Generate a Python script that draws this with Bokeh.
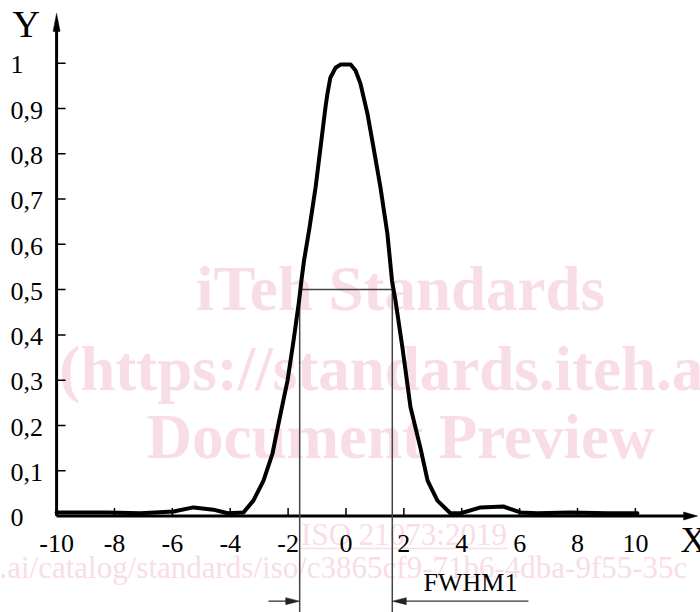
from bokeh.plotting import figure
from bokeh.models import Range1d
from bokeh.core.properties import value
from bokeh.embed import file_html
from bokeh.resources import INLINE

# ---------------- data ----------------
curve_x = [-10.0, -9.97, -8.24, -7.10, -5.96, -5.27, -4.58, -4.09, -3.54, -3.20, -2.85,
           -2.54, -2.26, -2.02, -1.81, -1.62, -1.54, -1.45, -1.26, -1.05, -0.88,
           -0.71, -0.64, -0.54, -0.36, -0.19, 0.16, 0.33, 0.50, 0.74, 0.95, 1.19, 1.43,
           1.59, 1.71, 1.95, 2.23, 2.57, 2.82, 3.16, 3.61, 3.96, 4.65,
           5.44, 6.03, 6.61, 7.76, 9.03, 10.07]
curve_y = [0.008, 0.008, 0.008, 0.006, 0.010, 0.019, 0.014, 0.006, 0.008, 0.034, 0.078,
           0.138, 0.226, 0.299, 0.388, 0.476, 0.520, 0.564, 0.637, 0.726, 0.814,
           0.902, 0.933, 0.968, 0.990, 0.997, 0.997, 0.984, 0.955, 0.889, 0.814, 0.726, 0.624,
           0.520, 0.476, 0.372, 0.240, 0.151, 0.078, 0.034, 0.006, 0.006, 0.019,
           0.021, 0.008, 0.006, 0.008, 0.006, 0.006]

x_ticks = [-10, -8, -6, -4, -2, 0, 2, 4, 6, 8, 10]
x_tick_labels = ["-10", "-8", "-6", "-4", "-2", "0", "2", "4", "6", "8", "10"]
y_ticks = [0.0, 0.1, 0.2, 0.3, 0.4, 0.5, 0.6, 0.7, 0.8, 0.9, 1.0]
y_tick_labels = ["0", "0,1", "0,2", "0,3", "0,4", "0,5", "0,6", "0,7", "0,8", "0,9", "1"]

fwhm_left = -1.6
fwhm_right = 1.6
half_max = 0.5
fwhm_label = "FWHM1"

watermark_lines = ["iTeh Standards", "(https://standards.iteh.ai)", "Document Preview"]
watermark_iso = "ISO 21073:2019"
watermark_url = ".ai/catalog/standards/iso/c3865cf9-71b6-4dba-9f55-35c"

# ---------------- layout ----------------
W, H = 700, 612
x_start, x_end = -11.938, 12.250
y_start, y_end = -0.2131, 1.1385
ppx = W / (x_end - x_start)   # pixels per x unit
ppy = H / (y_end - y_start)   # pixels per y unit

SERIF = value("Liberation Serif")
WM_COLOR = "#f9dde5"


def up(size_px):
    """small baseline correction for the svg text renderer"""
    return 0.37 * size_px / ppy


p = figure(width=W, height=H, x_range=Range1d(x_start, x_end), y_range=Range1d(y_start, y_end),
           x_axis_type=None, y_axis_type=None, min_border=0, toolbar_location=None,
           output_backend="svg", background_fill_color="white", border_fill_color="white")
p.outline_line_color = None
p.grid.visible = False

# ---------------- watermark ----------------
wm_x = 1.883
p.text(x=[wm_x] * 3, y=[v + up(63) for v in [0.4494, 0.2727, 0.1226]], text=watermark_lines,
       text_font=SERIF, text_font_style="bold", text_font_size=value("63px"),
       text_color=WM_COLOR, text_align="center", text_baseline="alphabetic")
p.text(x=[2.004], y=[-0.0651 + up(31)], text=[watermark_iso], text_font=SERIF,
       text_font_size=value("31px"), text_color=WM_COLOR, text_align="center",
       text_baseline="alphabetic")
p.segment(x0=[-1.572], y0=[-0.0718], x1=[5.58], y1=[-0.0718], line_color=WM_COLOR, line_width=1.5)
p.text(x=[-11.973], y=[-0.138 + up(31)], text=[watermark_url], text_font=SERIF,
       text_font_size=value("31px"), text_color=WM_COLOR, text_align="left",
       text_baseline="alphabetic")


def head(tx, ty, dirx, diry, length_px, width_px):
    """triangle arrow head with tip at (tx, ty), direction in pixel space"""
    bx = tx - dirx * length_px / ppx
    by = ty - diry * length_px / ppy
    nx, ny = -diry, dirx
    hw = width_px / 2
    return ([tx, bx + nx * hw / ppx, bx - nx * hw / ppx],
            [ty, by + ny * hw / ppy, by - ny * hw / ppy])


# ---------------- axes ----------------
y_axis_top = 1.11
x_axis_right = 12.15
ya_len, xa_len = 18, 14
p.segment(x0=[-10, -10], y0=[0, 0], x1=[-10, x_axis_right - 0.6 * xa_len / ppx],
          y1=[y_axis_top - 0.6 * ya_len / ppy, 0], line_color="black", line_width=3)
hy = head(-10, y_axis_top, 0, 1, ya_len, 7)
hx = head(x_axis_right, 0, 1, 0, xa_len, 8)
p.patches(xs=[hy[0], hx[0]], ys=[hy[1], hx[1]], fill_color="black", line_color="black", line_width=0.5)

# ticks
p.segment(x0=[-10] * len(y_ticks), y0=y_ticks, x1=[-10 + 9 / ppx] * len(y_ticks), y1=y_ticks,
          line_color="black", line_width=1.5)
p.segment(x0=x_ticks, y0=[0] * len(x_ticks), x1=x_ticks, y1=[8 / ppy] * len(x_ticks),
          line_color="black", line_width=1.5)

# tick labels
p.text(x=[-11.593] * len(y_ticks), y=[v - 11.3 / ppy + up(26) for v in y_ticks], text=y_tick_labels,
       text_font=SERIF, text_font_size=value("26px"), text_color="black",
       text_align="left", text_baseline="alphabetic")
p.text(x=x_ticks, y=[-0.0829 + up(26)] * len(x_ticks), text=x_tick_labels,
       text_font=SERIF, text_font_size=value("26px"), text_color="black",
       text_align="center", text_baseline="alphabetic")

# axis titles
p.text(x=[-11.52], y=[1.0545 + up(38)], text=["Y"], text_font=SERIF, text_font_size=value("38px"),
       text_color="black", text_align="left", text_baseline="alphabetic")
p.text(x=[11.56], y=[-0.0828 + up(36)], text=["X"], text_font=SERIF, text_font_size=value("36px"),
       text_color="black", text_align="left", text_baseline="alphabetic")

# ---------------- FWHM construction ----------------
arrow_y = -0.188
p.segment(x0=[fwhm_left, fwhm_right, fwhm_left], y0=[half_max, half_max, half_max],
          x1=[fwhm_left, fwhm_right, fwhm_right], y1=[y_start, y_start, half_max],
          line_color="#444444", line_width=1.5)
left_start = -2.678
right_start = 6.306
p.segment(x0=[left_start, right_start], y0=[arrow_y, arrow_y],
          x1=[fwhm_left - 8 / ppx, fwhm_right + 8 / ppx], y1=[arrow_y, arrow_y],
          line_color="#333333", line_width=1.3)
ha = head(fwhm_left, arrow_y, 1, 0, 14, 7)
hb = head(fwhm_right, arrow_y, -1, 0, 14, 7)
p.patches(xs=[ha[0], hb[0]], ys=[ha[1], hb[1]], fill_color="#222222", line_color="#222222", line_width=0.5)
p.text(x=[2.678], y=[-0.169 + up(26)], text=[fwhm_label], text_font=SERIF, text_font_size=value("26px"),
       text_color="black", text_align="left", text_baseline="alphabetic")

# ---------------- curve ----------------
p.line(curve_x, curve_y, line_color="black", line_width=4, line_join="round", line_cap="round")

open("out.html", "w").write(file_html(p, INLINE))
